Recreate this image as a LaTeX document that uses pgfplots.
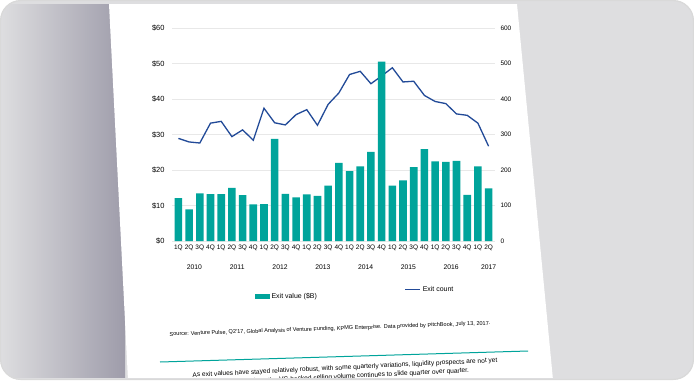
\documentclass[border=0pt]{standalone}
\usepackage{pgfplots}
\pgfplotsset{compat=1.18}
\usepackage{fontspec}
\setmainfont{Liberation Sans}
\definecolor{teal1}{RGB}{0,164,155}
\definecolor{navy1}{RGB}{34,74,152}
\definecolor{lgray}{RGB}{222,222,224}
\definecolor{ldark}{RGB}{158,156,170}
\tikzset{yearlbl/.style={font=\fontsize{6.8}{7}\selectfont, anchor=north, yshift=-20bp}}
\begin{document}
\begin{tikzpicture}[x=1bp,y=1bp]
\useasboundingbox (0,0) rectangle (694,380);
\begin{scope}
\clip[rounded corners=20bp] (0.5,0.5) rectangle (693.5,379.5);
\fill[lgray] (0,0) rectangle (694,380);
\shade[left color=lgray, right color=ldark] (0,0) rectangle (125,380);
\fill[white] (109,376) -- (517,376) -- (553,0) -- (128,0) -- cycle;

% line axis (right scale) with gridlines
\begin{axis}[
  at={(172bp,139bp)}, anchor=south west, scale only axis,
  width=323bp, height=213bp,
  xmin=-0.6, xmax=29.6, ymin=0, ymax=600,
  axis x line=none, axis y line*=right,
  axis line style={draw=none},
  major tick length=0pt,
  ytick={0,100,200,300,400,500,600},
  yticklabels={0,100,200,300,400,500,600},
  yticklabel style={font=\fontsize{6.5}{7}\selectfont, xshift=2bp},
  ymajorgrids, grid style={gray!18, line width=0.6bp},
  clip=false,
  legend style={draw=none, fill=none, at={(0.72,-0.23)}, anchor=west,
    font=\fontsize{7}{8}\selectfont, inner sep=0pt},
  legend image code/.code={\draw[navy1,line width=1bp] (0bp,0bp) -- (15bp,0bp);},
]
\addplot[navy1, line width=1.3bp, mark=none] coordinates {
(0,289) (1,279) (2,276) (3,332) (4,337) (5,294) (6,313) (7,284) (8,374) (9,333)
(10,327) (11,356) (12,370) (13,326) (14,385) (15,417) (16,469) (17,478) (18,443) (19,465)
(20,488) (21,448) (22,450) (23,410) (24,393) (25,387) (26,358) (27,354) (28,332) (29,267)};
\addlegendentry{Exit count}
\end{axis}

% bar axis (left scale)
\begin{axis}[
  at={(172bp,139bp)}, anchor=south west, scale only axis,
  width=323bp, height=213bp,
  xmin=-0.6, xmax=29.6, ymin=0, ymax=60,
  axis y line*=left, axis x line*=bottom,
  axis line style={draw=none},
  major tick length=0pt,
  ytick={0,10,20,30,40,50,60},
  yticklabels={\$0,\$10,\$20,\$30,\$40,\$50,\$60},
  yticklabel style={font=\fontsize{7.5}{8}\selectfont, xshift=-4bp},
  xtick={0,...,29},
  xticklabels={1Q,2Q,3Q,4Q,1Q,2Q,3Q,4Q,1Q,2Q,3Q,4Q,1Q,2Q,3Q,4Q,1Q,2Q,3Q,4Q,1Q,2Q,3Q,4Q,1Q,2Q,3Q,4Q,1Q,2Q},
  xticklabel style={font=\fontsize{6.5}{7}\selectfont, inner sep=1bp, yshift=-3bp},
  clip=false,
  legend style={draw=none, fill=none, at={(0.255,-0.26)}, anchor=west,
    font=\fontsize{7}{8}\selectfont, inner sep=0pt},
  legend image code/.code={\fill[teal1] (0bp,-2.8bp) rectangle (15bp,2.8bp);},
]
\addplot[ybar, bar width=7.6bp, fill=teal1, draw=none] coordinates {
(0,12.1) (1,8.9) (2,13.4) (3,13.2) (4,13.2) (5,15.0) (6,12.9) (7,10.3) (8,10.4) (9,28.8)
(10,13.3) (11,12.3) (12,13.1) (13,12.7) (14,15.6) (15,22.0) (16,19.7) (17,21.0) (18,25.1) (19,50.5)
(20,15.6) (21,17.1) (22,20.8) (23,25.9) (24,22.4) (25,22.3) (26,22.6) (27,13.0) (28,21.0) (29,14.8)};
\addlegendentry{Exit value (\$B)}
\node[yearlbl] at (axis cs:1.5,0) {2010};
\node[yearlbl] at (axis cs:5.5,0) {2011};
\node[yearlbl] at (axis cs:9.5,0) {2012};
\node[yearlbl] at (axis cs:13.5,0) {2013};
\node[yearlbl] at (axis cs:17.5,0) {2014};
\node[yearlbl] at (axis cs:21.5,0) {2015};
\node[yearlbl] at (axis cs:25.5,0) {2016};
\node[yearlbl] at (axis cs:29,0) {2017};
\end{axis}

\node[font=\fontsize{5.6}{6}\selectfont, rotate=2] at (330,51) {Source: Venture Pulse, Q2'17, Global Analysis of Venture Funding, KPMG Enterprise. Data provided by PitchBook, July 13, 2017.};
\draw[teal1, line width=1bp] (160,18) -- (528,29);
\node[font=\fontsize{6.6}{7}\selectfont, rotate=2.8, inner sep=0pt] at (345,12) {As exit values have stayed relatively robust, with some quarterly variations, liquidity prospects are not yet};
\node[font=\fontsize{6.6}{7}\selectfont, rotate=2.8, inner sep=0pt] at (352,3.5) {in sight, as the VC-backed selling volume continues to slide quarter over quarter.};
\fill[lgray] (0,0) rectangle (694,2);
\fill[lgray] (0,376) rectangle (694,380);
\end{scope}
\draw[gray!30, line width=1.2bp, rounded corners=20bp] (0.6,0.6) rectangle (693.4,379.4);
\end{tikzpicture}
\end{document}
